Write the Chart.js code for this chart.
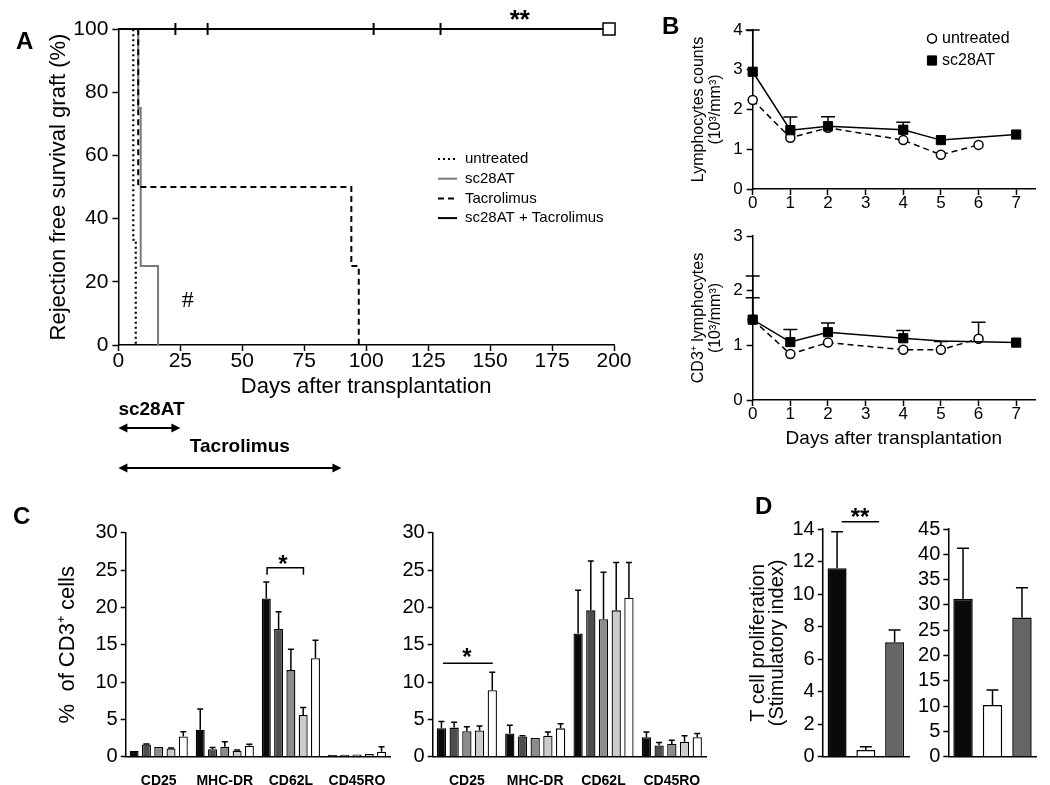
<!DOCTYPE html>
<html lang="en">
<head>
<meta charset="UTF-8">
<title>Graft survival and lymphocyte panels</title>
<script src="https://cdn.jsdelivr.net/npm/chart.js@4.4.1/dist/chart.umd.min.js"></script>
<style>
  body { margin: 0; background: #fff; }
  #page { position: relative; width: 1050px; height: 785px; overflow: hidden; font-family: "Liberation Sans", Arial, sans-serif; }
  #page canvas { position: absolute; }
  .panel { position: absolute; font-weight: bold; font-size: 24px; line-height: 1; }
</style>
</head>
<body>
<div id="page">
  <canvas id="chartA" width="640" height="480" style="left:0;top:0"></canvas>
  <canvas id="chartB1" width="410" height="215" style="left:640px;top:0"></canvas>
  <canvas id="chartB2" width="410" height="235" style="left:640px;top:215px"></canvas>
  <canvas id="chartC1" width="395" height="305" style="left:0;top:480px"></canvas>
  <canvas id="chartC2" width="320" height="305" style="left:390px;top:480px"></canvas>
  <canvas id="chartD1" width="175" height="305" style="left:740px;top:480px"></canvas>
  <canvas id="chartD2" width="135" height="305" style="left:915px;top:480px"></canvas>
  <div class="panel" style="left:16px;top:29px">A</div>
  <div class="panel" style="left:662px;top:14px">B</div>
  <div class="panel" style="left:13px;top:504px">C</div>
  <div class="panel" style="left:755px;top:494px">D</div>
</div>
<script>
// ---- A: rejection free survival, steps as [day, %]
const kmUntreated = [[0, 100], [6, 33.3], [7, 0]];
const kmSc28at = [[0, 100], [8, 75], [9, 25], [16, 0]];
const kmTacro = [[0, 100], [8, 50], [94, 25], [97, 0]];
const kmCombo = [[0, 100], [198, 100]];
const censorDays = [23, 36, 103, 130];
const lastDay = 198;
const treatNames = ['sc28AT', 'Tacrolimus'];
const treatFrom = [0, 0];
const treatTo = [25, 90];
const treatLabelDay = [0, 49];

// ---- B: lymphocyte counts (10^3/mm^3)
const daysUntr = [0, 1, 2, 4, 5, 6];
const daysSc = [0, 1, 2, 4, 5, 7];
const lymUntr = [2.24, 1.29, 1.54, 1.23, 0.86, 1.11];
const lymSc = [2.95, 1.48, 1.58, 1.49, 1.23, 1.37];
const lymScErr = [1.05, 0.33, 0.24, 0.19, 0, 0];
const cd3Untr = [1.47, 0.84, 1.05, 0.92, 0.92, 1.12];
const cd3UntrErr = [0.4, 0, 0, 0, 0.15, 0.3];
const cd3Sc = [1.47, 1.06, 1.24, 1.13, 1.08, 1.05];
const cd3ScErr = [0.8, 0.23, 0.17, 0.14, 0, 0];

// ---- C: % of CD3+ cells, five groups per marker
const markers = ['CD25', 'MHC-DR', 'CD62L', 'CD45RO'];
const cLeftMeans = [
  [0.8, 3.6, 21.2, 0.25],
  [1.65, 1.0, 17.1, 0.25],
  [1.3, 1.34, 11.6, 0.3],
  [1.1, 0.8, 5.6, 0.35],
  [2.7, 1.47, 13.2, 0.67]
];
const cLeftErrs = [
  [0, 2.8, 2.2, 0],
  [0.05, 0.22, 2.3, 0],
  [0, 0.67, 2.8, 0],
  [0.05, 0.1, 1.0, 0],
  [0.65, 0.2, 2.4, 0.67]
];
const cRightMeans = [
  [3.8, 3.1, 16.5, 2.6],
  [3.9, 2.7, 19.6, 1.5],
  [3.4, 2.5, 18.4, 1.7],
  [3.5, 2.8, 19.6, 2.0],
  [8.9, 3.8, 21.3, 2.6]
];
const cRightErrs = [
  [0.9, 1.1, 5.8, 0.7],
  [0.7, 0.1, 6.6, 0.4],
  [0.6, 0, 6.3, 0.5],
  [0.6, 0.5, 6.4, 0.8],
  [2.4, 0.6, 4.7, 0.5]
];
const groupColors = ['#0a0a0a', '#4d4d4d', '#8c8c8c', '#cccccc', '#ffffff'];

// ---- D: T cell proliferation (stimulatory index)
const dGroups = ['a', 'b', 'c'];
const dLeft = [11.58, 0.41, 7.03];
const dLeftErr = [2.25, 0.2, 0.76];
const dRight = [31.2, 10.2, 27.5];
const dRightErr = [10.0, 3.0, 5.9];
const dColors = ['#0a0a0a', '#ffffff', '#666666'];

const FAM = '"Liberation Sans", Arial, sans-serif';
Chart.defaults.font.family = FAM;
Chart.defaults.color = '#000';
Chart.defaults.animation = false;
Chart.defaults.responsive = false;
Chart.defaults.plugins.legend.display = false;
Chart.defaults.plugins.tooltip.enabled = false;

// upper error bars, drawn under the marks
const errorBars = {
  id: 'errorBars',
  beforeDatasetsDraw(chart, args, opts) {
    const ctx = chart.ctx, ys = chart.scales.y;
    const half = opts.cap || 3;
    chart.data.datasets.forEach((ds, i) => {
      if (!ds.errors) return;
      chart.getDatasetMeta(i).data.forEach((el, j) => {
        const e = ds.errors[j];
        if (!e) return;
        const raw = ds.data[j];
        const v = typeof raw === 'object' ? raw.y : raw;
        const top = ys.getPixelForValue(v + e);
        ctx.save();
        ctx.strokeStyle = '#000';
        ctx.lineWidth = 1.5;
        ctx.beginPath();
        ctx.moveTo(el.x, el.y);
        ctx.lineTo(el.x, top);
        ctx.moveTo(el.x - half, top);
        ctx.lineTo(el.x + half, top);
        ctx.stroke();
        ctx.restore();
      });
    });
  }
};

// significance lines / brackets and free text in data units
const annotate = {
  id: 'annotate',
  afterDraw(chart, args, opts) {
    const {ctx} = chart, xs = chart.scales.x, ys = chart.scales.y;
    ctx.save();
    ctx.strokeStyle = '#000';
    ctx.lineWidth = 1.5;
    (opts.lines || []).forEach(l => {
      const x0 = xs.getPixelForValue(l.x0), x1 = xs.getPixelForValue(l.x1), yy = ys.getPixelForValue(l.y);
      ctx.beginPath();
      if (l.drop) {
        ctx.moveTo(x0, yy + l.drop); ctx.lineTo(x0, yy); ctx.lineTo(x1, yy); ctx.lineTo(x1, yy + l.drop);
      } else {
        ctx.moveTo(x0, yy); ctx.lineTo(x1, yy);
      }
      ctx.stroke();
    });
    (opts.texts || []).forEach(t => {
      ctx.font = t.font;
      ctx.fillStyle = '#000';
      ctx.textAlign = 'center';
      ctx.textBaseline = 'middle';
      ctx.fillText(t.text, xs.getPixelForValue(t.x), ys.getPixelForValue(t.y) + (t.dy || 0));
    });
    ctx.restore();
  }
};

// small in-plot legend built from dataset styles
const miniLegend = {
  id: 'miniLegend',
  afterDraw(chart, args, opts) {
    if (!opts.items) return;
    const ctx = chart.ctx;
    ctx.save();
    ctx.font = opts.font;
    ctx.textBaseline = 'middle';
    opts.items.forEach((di, k) => {
      const ds = chart.data.datasets[di];
      const yy = opts.y + k * opts.gap;
      if (opts.kind === 'line') {
        ctx.strokeStyle = ds.borderColor;
        ctx.lineWidth = ds.borderWidth;
        ctx.setLineDash(ds.borderDash || []);
        ctx.beginPath();
        ctx.moveTo(opts.x, yy);
        ctx.lineTo(opts.x + opts.len, yy);
        ctx.stroke();
        ctx.setLineDash([]);
      } else {
        ctx.fillStyle = ds.pointBackgroundColor;
        ctx.strokeStyle = ds.pointBorderColor;
        ctx.lineWidth = ds.pointBorderWidth;
        Chart.helpers.drawPoint(ctx, {pointStyle: ds.pointStyle, radius: opts.radius[k], borderWidth: ds.pointBorderWidth, rotation: 0}, opts.x + opts.len / 2, yy);
      }
      ctx.fillStyle = '#000';
      ctx.fillText(ds.label, opts.x + opts.len + opts.pad, yy);
    });
    ctx.restore();
  }
};

// treatment period arrows under panel A
const treatArrows = {
  id: 'treatArrows',
  afterDraw(chart, args, opts) {
    if (!opts.rows) return;
    const ctx = chart.ctx, xs = chart.scales.x, base = chart.chartArea.bottom;
    ctx.save();
    ctx.fillStyle = '#000';
    ctx.strokeStyle = '#000';
    ctx.font = 'bold 19px ' + FAM;
    ctx.textBaseline = 'middle';
    treatNames.forEach((name, i) => {
      const r = opts.rows[i];
      const x0 = xs.getPixelForValue(treatFrom[i]), x1 = xs.getPixelForValue(treatTo[i]);
      ctx.textAlign = r.align;
      ctx.fillText(name, xs.getPixelForValue(treatLabelDay[i]), base + r.text);
      const ya = base + r.arrow;
      ctx.lineWidth = 2;
      ctx.beginPath(); ctx.moveTo(x0 + 4, ya); ctx.lineTo(x1 - 4, ya); ctx.stroke();
      ctx.beginPath(); ctx.moveTo(x0, ya); ctx.lineTo(x0 + 9, ya - 4.5); ctx.lineTo(x0 + 9, ya + 4.5); ctx.closePath(); ctx.fill();
      ctx.beginPath(); ctx.moveTo(x1, ya); ctx.lineTo(x1 - 9, ya - 4.5); ctx.lineTo(x1 - 9, ya + 4.5); ctx.closePath(); ctx.fill();
    });
    ctx.restore();
  }
};

Chart.register(errorBars, annotate, miniLegend, treatArrows);

function axisLines(tickLen) {
  return {
    grid: {drawOnChartArea: false, tickLength: tickLen, tickColor: '#000', tickWidth: 1.5},
    border: {color: '#000', width: 1.5}
  };
}
const pts = arr => arr.map(p => ({x: p[0], y: p[1]}));
const zip = (xs, ys) => xs.map((x, i) => ({x: x, y: ys[i]}));

// ================= A =================
new Chart(document.getElementById('chartA'), {
  type: 'line',
  data: {
    datasets: [
      {label: 'last', data: [{x: lastDay, y: 100}], showLine: false, pointStyle: 'rect', pointRadius: 8.5,
        pointBackgroundColor: '#fff', pointBorderColor: '#000', pointBorderWidth: 1.5, clip: false},
      {label: 'censored', data: censorDays.map(d => ({x: d, y: 100})), showLine: false, pointStyle: 'line',
        rotation: 90, pointRadius: 6, pointBorderColor: '#000', pointBorderWidth: 2, clip: false},
      {label: 'sc28AT + Tacrolimus', data: pts(kmCombo), stepped: true, borderColor: '#000', borderWidth: 2, pointRadius: 0, clip: false},
      {label: 'untreated', data: pts(kmUntreated), stepped: true, borderColor: '#000', borderWidth: 2.2, borderDash: [2, 3], pointRadius: 0, clip: false},
      {label: 'Tacrolimus', data: pts(kmTacro), stepped: true, borderColor: '#000', borderWidth: 2, borderDash: [6, 4], pointRadius: 0, clip: false},
      {label: 'sc28AT', data: pts(kmSc28at), stepped: true, borderColor: '#7a7a7a', borderWidth: 2, pointRadius: 0, clip: false}
    ]
  },
  options: {
    layout: {padding: {left: 46, top: 29, right: 26, bottom: 80}},
    scales: {
      x: Object.assign({
        type: 'linear', min: 0, max: 200,
        ticks: {stepSize: 25, font: {size: 21, lineHeight: 1}, padding: 0},
        title: {display: true, text: 'Days after transplantation', font: {size: 22}, padding: 0},
        afterFit: s => { s.height = 55; }
      }, axisLines(6)),
      y: Object.assign({
        min: 0, max: 100,
        ticks: {stepSize: 20, font: {size: 21}, padding: 4},
        title: {display: true, text: 'Rejection free survival graft (%)', font: {size: 22}, padding: 0},
        afterFit: s => { s.width = 72.4; }
      }, axisLines(6))
    },
    plugins: {
      miniLegend: {kind: 'line', items: [3, 5, 4, 2], x: 438, y: 159, gap: 19.7, len: 19, pad: 8, font: '15px ' + FAM},
      annotate: {texts: [
        {text: '**', x: 162, y: 104.8, font: 'bold 26px ' + FAM, dy: 7},
        {text: '#', x: 28, y: 14.2, font: '24px "Liberation Serif", serif', dy: 1}
      ]},
      treatArrows: {rows: [{align: 'left', text: 65, arrow: 83}, {align: 'center', text: 102, arrow: 123}]}
    }
  }
});

// ================= B =================
function bChart(id, padTop, xHeight, yMax, sc, scErr, untr, untrErr, yTitle, xTitle, legend, scRadius) {
  return new Chart(document.getElementById(id), {
    type: 'line',
    data: {
      datasets: [
        {label: 'sc28AT', data: zip(daysSc, sc), errors: scErr, borderColor: '#000', borderWidth: 1.5,
          pointStyle: 'rect', pointRadius: scRadius, pointBackgroundColor: '#000', pointBorderColor: '#000', pointBorderWidth: 1, clip: false},
        {label: 'untreated', data: zip(daysUntr, untr), errors: untrErr, borderColor: '#000', borderWidth: 1.5, borderDash: [6, 4],
          pointStyle: 'circle', pointRadius: 4.5, pointBackgroundColor: '#fff', pointBorderColor: '#000', pointBorderWidth: 1.5, clip: false}
      ]
    },
    options: {
      layout: {padding: {left: 50.5, top: padTop, right: 15, bottom: 0}},
      scales: {
        x: Object.assign({
          type: 'linear', min: 0, max: 7.5,
          ticks: {stepSize: 1, includeBounds: false, autoSkip: false, font: {size: 17, lineHeight: 1}, padding: 0},
          title: xTitle ? {display: true, text: xTitle, font: {size: 19}, padding: 0} : {display: false},
          afterFit: s => { s.height = xHeight; }
        }, axisLines(6)),
        y: Object.assign({
          min: 0, max: yMax,
          ticks: {stepSize: 1, autoSkip: false, font: {size: 17}, padding: 4},
          title: {display: true, text: yTitle, font: {size: 16, lineHeight: 1.06}, padding: 0},
          afterFit: s => { s.width = 62.2; }
        }, axisLines(6))
      },
      plugins: {
        errorBars: {cap: 7},
        miniLegend: legend
      }
    }
  });
}
bChart('chartB1', 30, 26, 4, lymSc, lymScErr, lymUntr, [0, 0, 0, 0, 0, 0],
  ['Lymphocytes counts', '(10³/mm³)'], null,
  {kind: 'point', items: [1, 0], radius: [4.5, 6.5], x: 285, y: 38.5, gap: 22, len: 14, pad: 3, font: '16px ' + FAM},
  [6.5, 6.5, 6.5, 6.5, 6.5, 6.5]);
bChart('chartB2', 21, 50, 3, cd3Sc, cd3ScErr, cd3Untr, cd3UntrErr,
  ['CD3⁺ lymphocytes', '(10³/mm³)'], 'Days after transplantation', {},
  [6.5, 6.5, 6.5, 6.5, 0, 6.5]);

// ================= C =================
function cChart(id, means, errs, padLeft, yWidth, padRight, yTitle, notes) {
  return new Chart(document.getElementById(id), {
    type: 'bar',
    data: {
      labels: markers,
      datasets: means.map((m, g) => ({
        label: 'group ' + (g + 1), data: m, errors: errs[g],
        backgroundColor: groupColors[g], borderColor: '#000', borderWidth: 1.3, borderSkipped: 'bottom',
        barPercentage: 0.73, categoryPercentage: 0.93
      }))
    },
    options: {
      layout: {padding: {left: padLeft, top: 52.7, right: padRight, bottom: 0}},
      scales: {
        x: {
          grid: {display: false}, border: {color: '#000', width: 1.5},
          ticks: {font: {size: 14, weight: 'bold'}, padding: 8},
          afterFit: s => { s.height = 28.3; }
        },
        y: Object.assign({
          min: 0, max: 30,
          ticks: {stepSize: 5, autoSkip: false, font: {size: 20}, padding: 3},
          title: yTitle ? {display: true, text: yTitle, font: {size: 22}, padding: 0} : {display: false},
          afterFit: s => { s.width = yWidth; }
        }, axisLines(5))
      },
      plugins: {errorBars: {cap: 3}, annotate: notes}
    }
  });
}
cChart('chartC1', cLeftMeans, cLeftErrs, 54.3, 71.4, 5, '%  of CD3⁺ cells', {
  lines: [{x0: 1.64, x1: 2.19, y: 25.3, drop: 7}],
  texts: [{text: '*', x: 1.88, y: 26.6, font: 'bold 24px ' + FAM, dy: 7}]
});
cChart('chartC2', cRightMeans, cRightErrs, 0, 42.7, 4, null, {
  lines: [{x0: -0.35, x1: 0.38, y: 12.5}],
  texts: [{text: '*', x: 0, y: 14.1, font: 'bold 24px ' + FAM, dy: 7}]
});

// ================= D =================
function dChart(id, vals, errs, max, step, padLeft, yWidth, padRight, yTitle, notes) {
  return new Chart(document.getElementById(id), {
    type: 'bar',
    data: {
      labels: dGroups,
      datasets: [{label: 'proliferation', data: vals, errors: errs, backgroundColor: dColors, borderColor: '#000',
        borderWidth: 1.5, borderSkipped: 'bottom', barPercentage: 0.66, categoryPercentage: 1}]
    },
    options: {
      layout: {padding: {left: padLeft, top: 49, right: padRight, bottom: 0}},
      scales: {
        x: {
          grid: {display: false}, border: {color: '#000', width: 1.5},
          ticks: {display: false},
          afterFit: s => { s.height = 28.3; }
        },
        y: Object.assign({
          min: 0, max: max,
          ticks: {stepSize: step, autoSkip: false, font: {size: 20}, padding: 3},
          title: yTitle ? {display: true, text: yTitle, font: {size: 20, lineHeight: 0.95}, padding: 0} : {display: false},
          afterFit: s => { s.width = yWidth; }
        }, axisLines(5))
      },
      plugins: {errorBars: {cap: 6}, annotate: notes}
    }
  });
}
dChart('chartD1', dLeft, dLeftErr, 14, 2, 8.5, 74.2, 6, ['T cell proliferation', '(Stimulatory index)'], {
  lines: [{x0: 0.16, x1: 1.46, y: 14.45}],
  texts: [{text: '**', x: 0.8, y: 15.1, font: 'bold 24px ' + FAM, dy: 7}]
});
dChart('chartD2', dRight, dRightErr, 45, 5, 0, 33.3, 13.3, null, {});
</script>
</body>
</html>
